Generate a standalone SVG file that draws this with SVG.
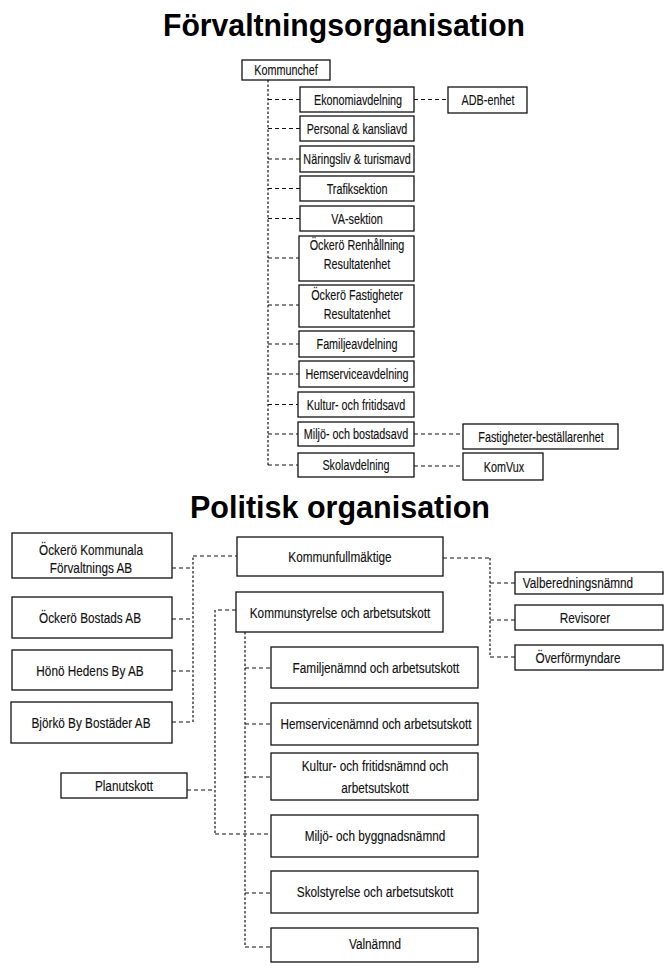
<svg xmlns="http://www.w3.org/2000/svg" width="665" height="970" viewBox="0 0 665 970">
  <style>
    .bg { fill: #ffffff; }
    .box { fill: #ffffff; stroke: #111111; stroke-width: 1.3; }
    .h { fill: none; stroke: #111111; stroke-width: 1.2; stroke-dasharray: 4 3; }
    .v { fill: none; stroke: #111111; stroke-width: 1.2; stroke-dasharray: 2.5 2; }
    .title { font-family: "Liberation Sans", Arial, sans-serif; font-weight: bold; font-size: 32px; fill: #000000; text-anchor: middle; }
    .s { font-family: "Liberation Sans", Arial, sans-serif; font-size: 14.5px; fill: #111111; text-anchor: middle; stroke: #111111; stroke-width: 0.15; }
    .m { font-family: "Liberation Sans", Arial, sans-serif; font-size: 15.5px; fill: #111111; text-anchor: middle; stroke: #111111; stroke-width: 0.15; }
  </style>

  <rect class="bg" x="0" y="0" width="665" height="970"/>

  <!-- headings -->
  <text class="title" x="344" y="36" textLength="362" lengthAdjust="spacingAndGlyphs">Förvaltningsorganisation</text>
  <text class="title" x="340" y="518" textLength="300" lengthAdjust="spacingAndGlyphs">Politisk organisation</text>

  <!-- connectors -->
  <g id="connectors">
    <!-- administration tree -->
    <path class="v" d="M268,80 V465"/>
    <path class="h" d="M268,465 H299"/>
    <path class="h" d="M268,99.5 H300"/>
    <path class="h" d="M268,128.5 H300"/>
    <path class="h" d="M268,159 H300"/>
    <path class="h" d="M268,188.5 H300"/>
    <path class="h" d="M268,218.5 H300"/>
    <path class="h" d="M268,258 H299"/>
    <path class="h" d="M268,305 H299"/>
    <path class="h" d="M268,344 H299"/>
    <path class="h" d="M268,374 H299"/>
    <path class="h" d="M268,404.5 H298"/>
    <path class="h" d="M268,434 H298"/>
    <path class="h" d="M414,99.5 H448"/>
    <path class="h" d="M414,434 H463"/>
    <path class="h" d="M414,466 H463"/>

    <!-- companies to council -->
    <path class="h" d="M172,568 H193"/>
    <path class="h" d="M172,619 H193"/>
    <path class="h" d="M172,671 H193"/>
    <path class="h" d="M172,722 H193"/>
    <path class="v" d="M193,722 V556"/>
    <path class="h" d="M193,556 H237"/>

    <!-- council to right-hand bodies -->
    <path class="h" d="M443,558 H490"/>
    <path class="v" d="M490,558 V657"/>
    <path class="h" d="M490,583 H515"/>
    <path class="h" d="M490,620 H515"/>
    <path class="h" d="M490,657 H515"/>

    <!-- executive board, outer branch -->
    <path class="h" d="M236,610 H215"/>
    <path class="v" d="M215,610 V834"/>
    <path class="h" d="M215,834 H271"/>
    <path class="h" d="M187,790 H215"/>

    <!-- executive board, committees -->
    <path class="v" d="M245,632 V947"/>
    <path class="h" d="M245,947 H271"/>
    <path class="h" d="M245,668 H271"/>
    <path class="h" d="M245,724 H271"/>
    <path class="h" d="M245,777 H271"/>
    <path class="h" d="M245,893 H271"/>
  </g>

  <!-- administration -->
  <g id="kommunchef">
    <rect class="box" x="242" y="60" width="88" height="20"/>
    <text class="s" transform="translate(286,75) scale(0.745,1)">Kommunchef</text>
  </g>
  <g id="ekonomiavdelning">
    <rect class="box" x="300" y="87" width="114" height="25"/>
    <text class="s" transform="translate(358,104.5) scale(0.745,1)">Ekonomiavdelning</text>
  </g>
  <g id="adb-enhet">
    <rect class="box" x="448" y="87" width="79" height="26"/>
    <text class="s" transform="translate(488,104.5) scale(0.745,1)">ADB-enhet</text>
  </g>
  <g id="personal">
    <rect class="box" x="300" y="116" width="114" height="25"/>
    <text class="s" transform="translate(357,133.5) scale(0.745,1)">Personal &amp; kansliavd</text>
  </g>
  <g id="naringsliv">
    <rect class="box" x="300" y="146" width="114" height="26"/>
    <text class="s" transform="translate(357,164) scale(0.745,1)">Näringsliv &amp; turismavd</text>
  </g>
  <g id="trafiksektion">
    <rect class="box" x="300" y="176" width="114" height="25"/>
    <text class="s" transform="translate(357,193.5) scale(0.745,1)">Trafiksektion</text>
  </g>
  <g id="va-sektion">
    <rect class="box" x="300" y="206" width="114" height="25"/>
    <text class="s" transform="translate(357,223.5) scale(0.745,1)">VA-sektion</text>
  </g>
  <g id="renhallning">
    <rect class="box" x="299" y="236" width="115" height="45"/>
    <text class="s" transform="translate(357,250) scale(0.745,1)">Öckerö Renhållning</text>
    <text class="s" transform="translate(357,268.5) scale(0.745,1)">Resultatenhet</text>
  </g>
  <g id="fastigheter">
    <rect class="box" x="299" y="285" width="115" height="42"/>
    <text class="s" transform="translate(357,300) scale(0.745,1)">Öckerö Fastigheter</text>
    <text class="s" transform="translate(357,319) scale(0.745,1)">Resultatenhet</text>
  </g>
  <g id="familjeavdelning">
    <rect class="box" x="299" y="331" width="115" height="26"/>
    <text class="s" transform="translate(357,349) scale(0.745,1)">Familjeavdelning</text>
  </g>
  <g id="hemserviceavdelning">
    <rect class="box" x="299" y="361" width="115" height="26"/>
    <text class="s" transform="translate(357,379) scale(0.745,1)">Hemserviceavdelning</text>
  </g>
  <g id="kulturavd">
    <rect class="box" x="298" y="392" width="116" height="25"/>
    <text class="s" transform="translate(356,409.5) scale(0.745,1)">Kultur- och fritidsavd</text>
  </g>
  <g id="miljoavd">
    <rect class="box" x="298" y="422" width="116" height="24"/>
    <text class="s" transform="translate(356,439) scale(0.745,1)">Miljö- och bostadsavd</text>
  </g>
  <g id="skolavdelning">
    <rect class="box" x="298" y="453" width="116" height="24"/>
    <text class="s" transform="translate(356,470) scale(0.745,1)">Skolavdelning</text>
  </g>
  <g id="bestallarenhet">
    <rect class="box" x="463" y="424" width="155" height="25"/>
    <text class="s" transform="translate(541,441.5) scale(0.745,1)">Fastigheter-beställarenhet</text>
  </g>
  <g id="komvux">
    <rect class="box" x="463" y="453" width="80" height="27"/>
    <text class="s" transform="translate(504,471.5) scale(0.745,1)">KomVux</text>
  </g>

  <!-- political organisation -->
  <g id="forvaltnings-ab">
    <rect class="box" x="12" y="533" width="160" height="45"/>
    <text class="m" transform="translate(91,554.5) scale(0.76,1)">Öckerö Kommunala</text>
    <text class="m" transform="translate(91,572.5) scale(0.76,1)">Förvaltnings AB</text>
  </g>
  <g id="bostads-ab">
    <rect class="box" x="12" y="597" width="160" height="41"/>
    <text class="m" transform="translate(90,623) scale(0.76,1)">Öckerö Bostads AB</text>
  </g>
  <g id="hono-hedens">
    <rect class="box" x="12" y="650" width="160" height="40"/>
    <text class="m" transform="translate(90,675.5) scale(0.76,1)">Hönö Hedens By AB</text>
  </g>
  <g id="bjorko">
    <rect class="box" x="11" y="702" width="161" height="41"/>
    <text class="m" transform="translate(91,727.5) scale(0.76,1)">Björkö By Bostäder AB</text>
  </g>
  <g id="planutskott">
    <rect class="box" x="61" y="773" width="126" height="25"/>
    <text class="m" transform="translate(124,791) scale(0.76,1)">Planutskott</text>
  </g>
  <g id="kommunfullmaktige">
    <rect class="box" x="237" y="537" width="206" height="39"/>
    <text class="m" transform="translate(340,562) scale(0.76,1)">Kommunfullmäktige</text>
  </g>
  <g id="kommunstyrelse">
    <rect class="box" x="236" y="592" width="207" height="40"/>
    <text class="m" transform="translate(340,617.5) scale(0.76,1)">Kommunstyrelse och arbetsutskott</text>
  </g>
  <g id="valberedningsnamnd">
    <rect class="box" x="515" y="572" width="148" height="22"/>
    <text class="m" transform="translate(578,588) scale(0.76,1)">Valberedningsnämnd</text>
  </g>
  <g id="revisorer">
    <rect class="box" x="515" y="605" width="148" height="25"/>
    <text class="m" transform="translate(585,622.5) scale(0.76,1)">Revisorer</text>
  </g>
  <g id="overformyndare">
    <rect class="box" x="515" y="645" width="148" height="25"/>
    <text class="m" transform="translate(578,662.5) scale(0.76,1)">Överförmyndare</text>
  </g>
  <g id="familjenamnd">
    <rect class="box" x="271" y="647" width="207" height="41"/>
    <text class="m" transform="translate(376,673) scale(0.76,1)">Familjenämnd och arbetsutskott</text>
  </g>
  <g id="hemservicenamnd">
    <rect class="box" x="271" y="703" width="207" height="42"/>
    <text class="m" transform="translate(376,729) scale(0.76,1)">Hemservicenämnd och arbetsutskott</text>
  </g>
  <g id="kulturnamnd">
    <rect class="box" x="271" y="753" width="207" height="47"/>
    <text class="m" transform="translate(375,771) scale(0.76,1)">Kultur- och fritidsnämnd och</text>
    <text class="m" transform="translate(375,793) scale(0.76,1)">arbetsutskott</text>
  </g>
  <g id="byggnadsnamnd">
    <rect class="box" x="271" y="815" width="207" height="42"/>
    <text class="m" transform="translate(375,841) scale(0.76,1)">Miljö- och byggnadsnämnd</text>
  </g>
  <g id="skolstyrelse">
    <rect class="box" x="271" y="871" width="207" height="42"/>
    <text class="m" transform="translate(375,897) scale(0.76,1)">Skolstyrelse och arbetsutskott</text>
  </g>
  <g id="valnamnd">
    <rect class="box" x="271" y="928" width="207" height="34"/>
    <text class="m" transform="translate(375,948.5) scale(0.76,1)">Valnämnd</text>
  </g>
</svg>
